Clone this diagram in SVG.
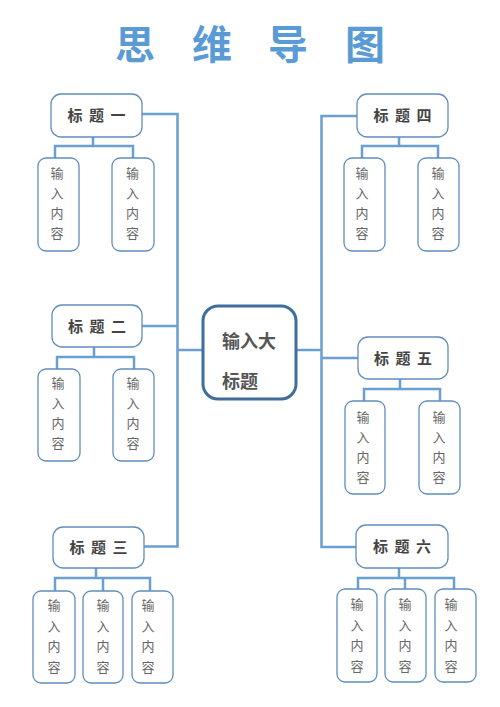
<svg xmlns="http://www.w3.org/2000/svg" width="500" height="707" viewBox="0 0 500 707">
<style>
.bg{fill:#ffffff}
.title{font-family:"Noto Sans CJK SC","Noto Sans",sans-serif;font-size:40px;font-weight:bold;fill:#5b9bd5;text-anchor:middle}
.head rect{fill:#ffffff;stroke:#5f8dbd;stroke-width:1.3}
.head text{font-family:"Noto Sans CJK SC","Noto Sans",sans-serif;font-size:15px;font-weight:bold;fill:#444444;text-anchor:middle;word-spacing:3px}
.leaf rect{fill:#ffffff;stroke:#5f8dbd;stroke-width:1.3}
.leaf text{font-family:"Noto Sans CJK SC","Noto Sans",sans-serif;font-size:13px;fill:#666666;text-anchor:middle}
.center rect{fill:#ffffff;stroke:#3f6d9c;stroke-width:3}
.center text{font-family:"Noto Sans CJK SC","Noto Sans",sans-serif;font-size:18px;font-weight:bold;fill:#555555}
.conn path{fill:none;stroke:#6a9fd2;stroke-width:2.5}
</style>
<rect class="bg" x="0" y="0" width="500" height="707"/>
<text class="title" y="59"><tspan x="135">思</tspan><tspan x="212">维</tspan><tspan x="288">导</tspan><tspan x="365">图</tspan></text>

<g id="connectors" class="conn">
<path d="M142,114 H177.5 V546.5 H144"/>
<path d="M142,326 H177.5"/>
<path d="M177.5,350 H202"/>
<path d="M297,350 H321.5"/>
<path d="M357,116 H321.5 V547 H356"/>
<path d="M321.5,358 H358"/>
<path d="M93,137 V146 M55,158 V146 H133 V158"/>
<path d="M94,347 V357 M57,369 V357 H134 V369"/>
<path d="M96,568 V578 M55,591 V578 H150 V591 M103,578 V591"/>
<path d="M399,137 V146 M362,158 V146 H438 V158"/>
<path d="M400,379 V389 M364,401 V389 H440 V401"/>
<path d="M399,568 V578 M358,589 V578 H454 V589 M405,578 V589"/>
</g>

<g id="center" class="center">
<rect x="203" y="306" width="93" height="93" rx="15"/>
<text x="222" y="348">输入大</text>
<text x="222" y="388">标题</text>
</g>

<g id="h1" class="head"><rect x="51" y="94" width="91" height="43" rx="10"/><text x="96.5" y="121">标 题 一</text></g>
<g id="h2" class="head"><rect x="52" y="305" width="90" height="42" rx="10"/><text x="97" y="331.5">标 题 二</text></g>
<g id="h3" class="head"><rect x="53" y="527" width="91" height="41" rx="10"/><text x="98.5" y="553">标 题 三</text></g>
<g id="h4" class="head"><rect x="357" y="94" width="91" height="43" rx="10"/><text x="402.5" y="121">标 题 四</text></g>
<g id="h5" class="head"><rect x="358" y="337" width="90" height="42" rx="10"/><text x="403" y="363.5">标 题 五</text></g>
<g id="h6" class="head"><rect x="356" y="525" width="92" height="43" rx="10"/><text x="402" y="552">标 题 六</text></g>

<g id="l1a" class="leaf"><rect x="38" y="158" width="41" height="93" rx="8"/><text><tspan x="57" y="178">输</tspan><tspan x="57" y="198">入</tspan><tspan x="57" y="218">内</tspan><tspan x="57" y="238">容</tspan></text></g>
<g id="l1b" class="leaf"><rect x="112" y="158" width="42" height="93" rx="8"/><text><tspan x="132.5" y="178">输</tspan><tspan x="132.5" y="198">入</tspan><tspan x="132.5" y="218">内</tspan><tspan x="132.5" y="238">容</tspan></text></g>

<g id="l2a" class="leaf"><rect x="38" y="369" width="42" height="92" rx="8"/><text><tspan x="58" y="388">输</tspan><tspan x="58" y="408">入</tspan><tspan x="58" y="428">内</tspan><tspan x="58" y="448">容</tspan></text></g>
<g id="l2b" class="leaf"><rect x="113" y="369" width="41" height="92" rx="8"/><text><tspan x="133" y="388">输</tspan><tspan x="133" y="408">入</tspan><tspan x="133" y="428">内</tspan><tspan x="133" y="448">容</tspan></text></g>

<g id="l3a" class="leaf"><rect x="33" y="591" width="42" height="92" rx="8"/><text><tspan x="54" y="610">输</tspan><tspan x="54" y="630.5">入</tspan><tspan x="54" y="651">内</tspan><tspan x="54" y="671.5">容</tspan></text></g>
<g id="l3b" class="leaf"><rect x="83" y="591" width="40" height="92" rx="8"/><text><tspan x="103" y="610">输</tspan><tspan x="103" y="630.5">入</tspan><tspan x="103" y="651">内</tspan><tspan x="103" y="671.5">容</tspan></text></g>
<g id="l3c" class="leaf"><rect x="132" y="591" width="41" height="92" rx="8"/><text><tspan x="148" y="610">输</tspan><tspan x="148" y="630.5">入</tspan><tspan x="148" y="651">内</tspan><tspan x="148" y="671.5">容</tspan></text></g>

<g id="l4a" class="leaf"><rect x="344" y="158" width="41" height="93" rx="8"/><text><tspan x="362" y="178">输</tspan><tspan x="362" y="198">入</tspan><tspan x="362" y="218">内</tspan><tspan x="362" y="238">容</tspan></text></g>
<g id="l4b" class="leaf"><rect x="418" y="158" width="41" height="93" rx="8"/><text><tspan x="438" y="178">输</tspan><tspan x="438" y="198">入</tspan><tspan x="438" y="218">内</tspan><tspan x="438" y="238">容</tspan></text></g>

<g id="l5a" class="leaf"><rect x="345" y="401" width="40" height="93" rx="8"/><text><tspan x="363" y="422">输</tspan><tspan x="363" y="442">入</tspan><tspan x="363" y="462">内</tspan><tspan x="363" y="482">容</tspan></text></g>
<g id="l5b" class="leaf"><rect x="419" y="401" width="41" height="93" rx="8"/><text><tspan x="439" y="422">输</tspan><tspan x="439" y="442">入</tspan><tspan x="439" y="462">内</tspan><tspan x="439" y="482">容</tspan></text></g>

<g id="l6a" class="leaf"><rect x="337" y="589" width="40" height="93" rx="8"/><text><tspan x="357" y="609">输</tspan><tspan x="357" y="629.5">入</tspan><tspan x="357" y="650">内</tspan><tspan x="357" y="670.5">容</tspan></text></g>
<g id="l6b" class="leaf"><rect x="385" y="589" width="41" height="93" rx="8"/><text><tspan x="405" y="609">输</tspan><tspan x="405" y="629.5">入</tspan><tspan x="405" y="650">内</tspan><tspan x="405" y="670.5">容</tspan></text></g>
<g id="l6c" class="leaf"><rect x="435" y="589" width="41" height="93" rx="8"/><text><tspan x="451" y="609">输</tspan><tspan x="451" y="629.5">入</tspan><tspan x="451" y="650">内</tspan><tspan x="451" y="670.5">容</tspan></text></g>
</svg>
